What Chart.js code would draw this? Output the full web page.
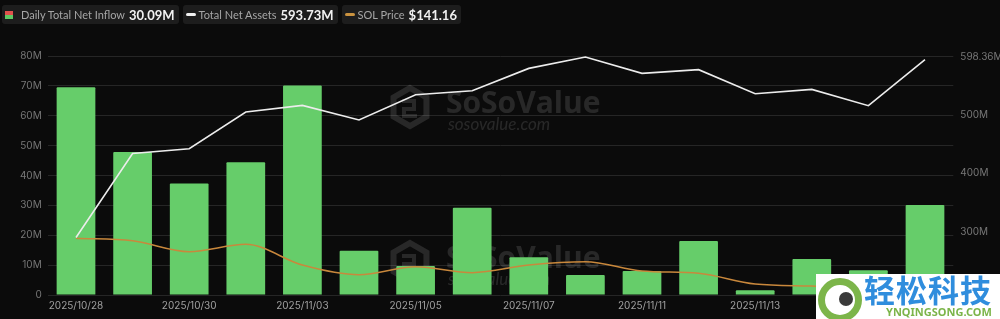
<!DOCTYPE html>
<html>
<head>
<meta charset="utf-8">
<script src="https://cdn.jsdelivr.net/npm/chart.js@4/dist/chart.umd.min.js"></script>
<style>
    html, body { margin: 0; padding: 0; background: #0b0b0b; }
    #wrap { position: relative; width: 1000px; height: 319px; overflow: hidden; background: #0b0b0b; }
    #chart { position: absolute; left: 0; top: 0; }
    .legend { position: absolute; left: 2px; top: 5px; display: flex; gap: 4px; font-family: Lato, sans-serif; }
    .pill { height: 19px; display: flex; align-items: center; background: #1d1d1d; border-radius: 3px; padding: 0 4px 0 2px; white-space: nowrap; }
    .pill .lbl { color: #a6a6a6; font-size: 11px; }
    .pill .val { color: #f2f2f2; font-size: 13px; font-weight: bold; margin-left: 4px; }
    .ico-bar { width: 8px; height: 8px; margin: 0 8px 0 1px; background: linear-gradient(#e0524c 50%, #5fc964 50%); }
    .ico-line { width: 10px; height: 3px; border-radius: 2px; margin: 0 3px 0 1px; }
    #stamp { position: absolute; left: 816px; top: 274px; width: 184px; height: 45px; background: #fff; }
    #stamp .ring { position: absolute; left: 2px; top: 4px; width: 30px; height: 30px; border: 7px solid #7cb54a; border-radius: 50%; }
    #stamp .dot { position: absolute; left: 14px; top: 7px; width: 14px; height: 14px; border-radius: 50%; background: #3a3a3a; }
    #stamp .cn { position: absolute; left: 48px; top: -3px; font-family: "Noto Sans CJK SC", sans-serif; font-weight: bold; font-size: 31px; color: #2f8ddd; letter-spacing: 1px; line-height: 36px; }
    #stamp .en { position: absolute; left: 70px; top: 32px; font-family: "Noto Sans", sans-serif; font-weight: bold; font-size: 11px; color: #7cb54a; line-height: 12px; }
</style>
</head>
<body>
<div id="wrap">
    <canvas id="chart" width="1000" height="319"></canvas>
    <div class="legend">
        <div class="pill"><span class="ico-bar"></span><span class="lbl">Daily Total Net Inflow</span><span class="val">30.09M</span></div>
        <div class="pill"><span class="ico-line" style="background:#f0f0f0"></span><span class="lbl">Total Net Assets</span><span class="val">593.73M</span></div>
        <div class="pill"><span class="ico-line" style="background:#c9923f"></span><span class="lbl">SOL Price</span><span class="val">$141.16</span></div>
    </div>
    <div id="stamp">
        <div class="ring"><div class="dot"></div></div>
        <div class="cn">轻松科技</div>
        <div class="en">YNQINGSONG.COM</div>
    </div>
</div>
<script>
// trading days
const dates = [
    '2025/10/28', '2025/10/29', '2025/10/30', '2025/10/31', '2025/11/03', '2025/11/04',
    '2025/11/05', '2025/11/06', '2025/11/07', '2025/11/10', '2025/11/11', '2025/11/12',
    '2025/11/13', '2025/11/14', '2025/11/17', '2025/11/18'
];

// daily total net inflow, in millions USD
const netInflow = [69.5, 47.9, 37.3, 44.4, 70.1, 14.8, 9.7, 29.2, 12.6, 6.7, 8.0, 18.1, 1.6, 12.05, 8.3, 30.09];

// total net assets, in millions USD
const netAssets = [290.8, 434, 442, 504.6, 515.9, 491, 534.1, 540.9, 578.9, 598.36, 570.4, 576.7, 535.8, 543.1, 515.3, 593.73];

// SOL price, USD
const solPrice = [196, 193.3, 181.1, 189.3, 166.3, 155.6, 164.4, 157.8, 166.3, 170, 159.7, 157.1, 145.2, 143, 140.8, 141.16];

// tick values
const inflowTicks = [0, 10, 20, 30, 40, 50, 60, 70, 80];
const assetTicks = [300, 400, 500, 598.36];

document.addEventListener('DOMContentLoaded', function() {
    const ctx = document.getElementById('chart').getContext('2d');

    // faint SoSoValue marks behind the data
    const watermark = {
        id: 'watermark',
        beforeDatasetsDraw(chart) {
            const c = chart.ctx;
            [107, 262].forEach(function(cy) {
                c.save();
                c.strokeStyle = 'rgba(255,255,255,0.12)';
                c.fillStyle = 'rgba(255,255,255,0.12)';
                c.lineWidth = 6;
                c.beginPath();
                for (let i = 0; i < 6; i++) {
                    const a = Math.PI / 3 * i - Math.PI / 2;
                    const x = 410 + 19 * Math.cos(a);
                    const y = cy + 19 * Math.sin(a);
                    if (i === 0) c.moveTo(x, y); else c.lineTo(x, y);
                }
                c.closePath();
                c.stroke();
                c.lineWidth = 4;
                c.beginPath();
                c.moveTo(402, cy - 6);
                c.lineTo(414, cy - 6);
                c.lineTo(414, cy + 2);
                c.lineTo(404, cy + 2);
                c.lineTo(404, cy + 9);
                c.lineTo(417, cy + 9);
                c.stroke();
                c.font = 'bold 30px "Open Sans"';
                c.textBaseline = 'alphabetic';
                c.fillText('SoSoValue', 446, cy + 6);
                c.font = 'italic 17px Lato';
                c.fillText('sosovalue.com', 448, cy + 23);
                c.restore();
            });
        }
    };

    new Chart(ctx, {
        data: {
            labels: dates,
            datasets: [
                {
                    type: 'line',
                    label: 'Total Net Assets',
                    data: netAssets,
                    yAxisID: 'yAssets',
                    borderColor: '#ececec',
                    borderWidth: 1.6,
                    pointRadius: 0,
                    tension: 0,
                    order: 1
                },
                {
                    type: 'line',
                    label: 'SOL Price',
                    data: solPrice,
                    yAxisID: 'yPrice',
                    borderColor: '#c9883c',
                    borderWidth: 1.5,
                    pointRadius: 0,
                    cubicInterpolationMode: 'monotone',
                    order: 2
                },
                {
                    type: 'bar',
                    label: 'Daily Total Net Inflow',
                    data: netInflow,
                    yAxisID: 'y',
                    backgroundColor: '#66cd6a',
                    categoryPercentage: 1,
                    barPercentage: 0.684,
                    borderRadius: 1,
                    order: 3
                }
            ]
        },
        options: {
            responsive: false,
            animation: false,
            layout: { padding: { top: 56, left: 0, right: 0, bottom: 0 } },
            plugins: { legend: { display: false }, tooltip: { enabled: false } },
            scales: {
                x: {
                    grid: { display: false, drawTicks: false },
                    border: { display: false },
                    ticks: {
                        autoSkip: false,
                        maxRotation: 0,
                        padding: 5,
                        color: '#a0a0a0',
                        font: { family: 'Inter', size: 10 },
                        callback: (v, i) => i % 2 === 0 ? dates[i] : ''
                    },
                    afterFit: (s) => { s.height = 24; }
                },
                y: {
                    position: 'left',
                    min: 0,
                    max: 80,
                    grid: { color: '#262626', drawTicks: false },
                    border: { display: false },
                    afterBuildTicks: (s) => { s.ticks = inflowTicks.map(v => ({ value: v })); },
                    ticks: {
                        padding: 6,
                        color: '#777',
                        font: { family: 'Inter', size: 10 },
                        callback: (v) => v === 0 ? '0' : v + 'M'
                    },
                    afterFit: (s) => { s.width = 47.7; }
                },
                yAssets: {
                    position: 'right',
                    min: 193,
                    max: 600,
                    grid: { display: false, drawTicks: false },
                    border: { display: false },
                    afterBuildTicks: (s) => { s.ticks = assetTicks.map(v => ({ value: v })); },
                    ticks: {
                        padding: 7,
                        color: '#777',
                        font: { family: 'Inter', size: 10 },
                        callback: (v) => v + 'M'
                    },
                    afterFit: (s) => { s.width = 46.7; }
                },
                yPrice: {
                    display: false,
                    min: 133,
                    max: 398.6
                }
            }
        },
        plugins: [watermark]
    });
});
</script>
</body>
</html>
